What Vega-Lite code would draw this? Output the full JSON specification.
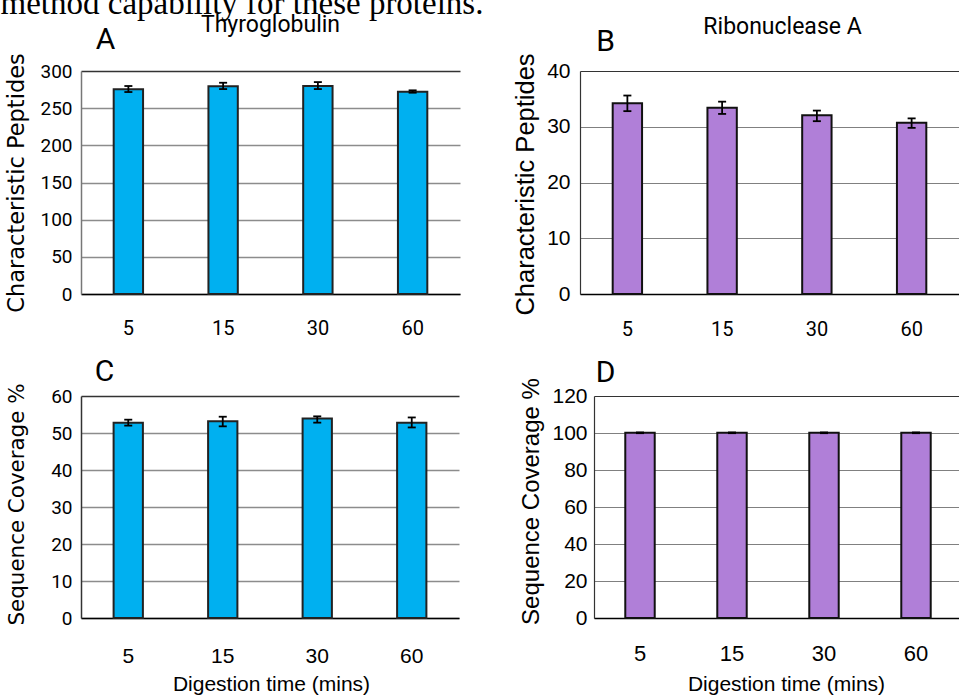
{
  "$schema": "https://vega.github.io/schema/vega-lite/v6.json",
  "autosize": "none",
  "padding": {"left": 81, "top": 71, "right": 878, "bottom": 629},
  "background": "white",
  "config": {
    "view": {"stroke": null},
    "axis": {"labelColor": "black", "titleColor": "black", "titleFontWeight": "normal", "labelFontWeight": "normal", "titleLimit": 2000, "labelLimit": 500, "labelOverlap": false}
  },
  "datasets": {
    "A": [
      {"time": 5, "mean": 275.3, "lo": 271.7, "hi": 279.8},
      {"time": 15, "mean": 279.4, "lo": 275.7, "hi": 284.2},
      {"time": 30, "mean": 279.8, "lo": 275.7, "hi": 285.1},
      {"time": 60, "mean": 272.2, "lo": 270.8, "hi": 274.0}
    ],
    "B": [
      {"time": 5, "mean": 34.2, "lo": 32.8, "hi": 35.6},
      {"time": 15, "mean": 33.4, "lo": 32.3, "hi": 34.5},
      {"time": 30, "mean": 32.05, "lo": 31.0, "hi": 32.9},
      {"time": 60, "mean": 30.7, "lo": 29.8, "hi": 31.5}
    ],
    "C": [
      {"time": 5, "mean": 52.8, "lo": 52.0, "hi": 53.6},
      {"time": 15, "mean": 53.2, "lo": 51.8, "hi": 54.4},
      {"time": 30, "mean": 53.9, "lo": 52.8, "hi": 54.5},
      {"time": 60, "mean": 52.8, "lo": 51.5, "hi": 54.2}
    ],
    "D": [
      {"time": 5, "mean": 100.1, "lo": 99.9, "hi": 100.3},
      {"time": 15, "mean": 100.1, "lo": 99.9, "hi": 100.3},
      {"time": 30, "mean": 100.1, "lo": 99.9, "hi": 100.3},
      {"time": 60, "mean": 100.1, "lo": 99.9, "hi": 100.3}
    ]
  },
  "bounds": "flush",
  "spacing": 325,
  "vconcat": [
    {
      "hconcat": [
        {
          "width": 379, "height": 223,
          "data": {"name": "A"},
          "resolve": {"axis": {"x": "independent", "y": "independent"}},
          "layer": [
            {
              "mark": {"type": "bar", "fill": "#00b0f0", "stroke": "#222222", "strokeWidth": 2},
              "encoding": {
                "x": {"field": "time", "type": "ordinal", "scale": {"type": "band", "paddingInner": 0.69, "paddingOuter": 0.345},
                  "axis": {"orient": "bottom", "labelAngle": 0, "ticks": false, "domainColor": "black", "domainWidth": 1.5, "grid": false, "labelFont": "Roboto", "labelFontSize": 20, "labelPadding": 24,
                    "title": "Thyroglobulin", "titleX": 189, "titleY": -263, "titleAlign": "center", "titleBaseline": "alphabetic", "titleFont": "Roboto", "titleFontSize": 23}},
                "y": {"field": "mean", "type": "quantitative", "scale": {"domain": [0, 300], "nice": false},
                  "axis": {"orient": "left", "values": [0, 50, 100, 150, 200, 250, 300], "ticks": false, "domainColor": "#777777", "domainWidth": 1.5, "grid": true,
                    "gridColor": {"condition": {"test": "datum.value === 300", "value": "#333333"}, "value": "#8c8c8c"}, "gridWidth": 1.5,
                    "labelFont": "Roboto", "labelFontSize": 19, "labelPadding": 9,
                    "title": "Characteristic Peptides", "titleFont": "DejaVu Sans", "titleFontSize": 22.5, "titleAngle": -90, "titleX": -58, "titleY": 111.5, "titleAlign": "center", "titleBaseline": "alphabetic"}}
              }
            },
            {
              "mark": {"type": "rule", "color": "black", "strokeWidth": 1.8},
              "encoding": {
                "x": {"field": "time", "type": "ordinal", "scale": {"type": "band", "paddingInner": 0.69, "paddingOuter": 0.345},
                  "axis": {"orient": "top", "labels": false, "ticks": false, "domain": false, "grid": false,
                    "title": "A", "titleX": 24, "titleY": -23, "titleAlign": "center", "titleBaseline": "alphabetic", "titleFont": "Roboto", "titleFontSize": 30}},
                "y": {"field": "lo", "type": "quantitative", "scale": {"domain": [0, 300], "nice": false},
                  "axis": {"orient": "right", "labels": false, "ticks": false, "domain": false, "grid": false,
                    "title": "method capability for these proteins.", "titleAngle": 0, "titleX": -460, "titleY": -58, "titleAlign": "left", "titleBaseline": "alphabetic", "titleFont": "Liberation Serif", "titleFontSize": 33}},
                "y2": {"field": "hi"}
              }
            },
            {
              "mark": {"type": "tick", "orient": "horizontal", "color": "black", "size": 8, "thickness": 1.8, "opacity": 1},
              "encoding": {
                "x": {"field": "time", "type": "ordinal", "scale": {"type": "band", "paddingInner": 0.69, "paddingOuter": 0.345}, "axis": null},
                "y": {"field": "lo", "type": "quantitative", "scale": {"domain": [0, 300], "nice": false}, "axis": null}
              }
            },
            {
              "mark": {"type": "tick", "orient": "horizontal", "color": "black", "size": 8, "thickness": 1.8, "opacity": 1},
              "encoding": {
                "x": {"field": "time", "type": "ordinal", "scale": {"type": "band", "paddingInner": 0.69, "paddingOuter": 0.345}, "axis": null},
                "y": {"field": "hi", "type": "quantitative", "scale": {"domain": [0, 300], "nice": false}, "axis": null}
              }
            }
          ]
        },
        {
          "width": 379, "height": 223,
          "data": {"name": "B"},
          "resolve": {"axis": {"x": "independent", "y": "independent"}},
          "layer": [
            {
              "mark": {"type": "bar", "fill": "#b07fd8", "stroke": "#111111", "strokeWidth": 2},
              "encoding": {
                "x": {"field": "time", "type": "ordinal", "scale": {"type": "band", "paddingInner": 0.69, "paddingOuter": 0.345},
                  "axis": {"orient": "bottom", "labelAngle": 0, "ticks": false, "domainColor": "black", "domainWidth": 1.5, "grid": false, "labelFont": "Roboto", "labelFontSize": 20, "labelPadding": 25,
                    "title": "Ribonuclease A", "titleX": 202, "titleY": -261, "titleAlign": "center", "titleBaseline": "alphabetic", "titleFont": "Roboto", "titleFontSize": 23}},
                "y": {"field": "mean", "type": "quantitative", "scale": {"domain": [0, 40], "nice": false},
                  "axis": {"orient": "left", "values": [0, 10, 20, 30, 40], "ticks": false, "domainColor": "#333333", "domainWidth": 1.2, "grid": true,
                    "gridColor": {"condition": {"test": "datum.value === 40", "value": "#333333"}, "value": "#808080"}, "gridWidth": 1.2,
                    "labelFont": "Liberation Sans", "labelFontSize": 21, "labelPadding": 10,
                    "title": "Characteristic Peptides", "titleFont": "Liberation Sans", "titleFontSize": 25.5, "titleAngle": -90, "titleX": -47, "titleY": 113, "titleAlign": "center", "titleBaseline": "alphabetic"}}
              }
            },
            {
              "mark": {"type": "rule", "color": "black", "strokeWidth": 1.8},
              "encoding": {
                "x": {"field": "time", "type": "ordinal", "scale": {"type": "band", "paddingInner": 0.69, "paddingOuter": 0.345},
                  "axis": {"orient": "top", "labels": false, "ticks": false, "domain": false, "grid": false,
                    "title": "B", "titleX": 25, "titleY": -21, "titleAlign": "center", "titleBaseline": "alphabetic", "titleFont": "Roboto", "titleFontSize": 30}},
                "y": {"field": "lo", "type": "quantitative", "scale": {"domain": [0, 40], "nice": false}, "axis": null},
                "y2": {"field": "hi"}
              }
            },
            {
              "mark": {"type": "tick", "orient": "horizontal", "color": "black", "size": 8, "thickness": 1.8, "opacity": 1},
              "encoding": {
                "x": {"field": "time", "type": "ordinal", "scale": {"type": "band", "paddingInner": 0.69, "paddingOuter": 0.345}, "axis": null},
                "y": {"field": "lo", "type": "quantitative", "scale": {"domain": [0, 40], "nice": false}, "axis": null}
              }
            },
            {
              "mark": {"type": "tick", "orient": "horizontal", "color": "black", "size": 8, "thickness": 1.8, "opacity": 1},
              "encoding": {
                "x": {"field": "time", "type": "ordinal", "scale": {"type": "band", "paddingInner": 0.69, "paddingOuter": 0.345}, "axis": null},
                "y": {"field": "hi", "type": "quantitative", "scale": {"domain": [0, 40], "nice": false}, "axis": null}
              }
            }
          ]
        }
      ],
      "spacing": 120,
      "bounds": "flush"
    },
    {
      "hconcat": [
        {
          "width": 378, "height": 222,
          "data": {"name": "C"},
          "resolve": {"axis": {"x": "independent", "y": "independent"}},
          "layer": [
            {
              "mark": {"type": "bar", "fill": "#00b0f0", "stroke": "#222222", "strokeWidth": 2},
              "encoding": {
                "x": {"field": "time", "type": "ordinal", "scale": {"type": "band", "paddingInner": 0.69, "paddingOuter": 0.345},
                  "axis": {"orient": "bottom", "labelAngle": 0, "ticks": false, "domainColor": "black", "domainWidth": 1.5, "grid": false, "labelFont": "Liberation Sans Narrow, Liberation Sans", "labelFontSize": 21, "labelPadding": 27,
                    "title": "Digestion time (mins)", "titleX": 190, "titleY": 72, "titleAlign": "center", "titleBaseline": "alphabetic", "titleFont": "Liberation Sans", "titleFontSize": 21}},
                "y": {"field": "mean", "type": "quantitative", "scale": {"domain": [0, 60], "nice": false},
                  "axis": {"orient": "left", "values": [0, 10, 20, 30, 40, 50, 60], "ticks": false, "domainColor": "#333333", "domainWidth": 1.5, "grid": true,
                    "gridColor": {"condition": {"test": "datum.value === 60", "value": "#333333"}, "value": "#8c8c8c"}, "gridWidth": 1.5,
                    "labelFont": "Roboto", "labelFontSize": 19, "labelPadding": 9,
                    "title": "Sequence Coverage %", "titleFont": "DejaVu Sans", "titleFontSize": 21.4, "titleAngle": -90, "titleX": -58, "titleY": 108, "titleAlign": "center", "titleBaseline": "alphabetic"}}
              }
            },
            {
              "mark": {"type": "rule", "color": "black", "strokeWidth": 1.8},
              "encoding": {
                "x": {"field": "time", "type": "ordinal", "scale": {"type": "band", "paddingInner": 0.69, "paddingOuter": 0.345},
                  "axis": {"orient": "top", "labels": false, "ticks": false, "domain": false, "grid": false,
                    "title": "C", "titleX": 23, "titleY": -16, "titleAlign": "center", "titleBaseline": "alphabetic", "titleFont": "Roboto", "titleFontSize": 30}},
                "y": {"field": "lo", "type": "quantitative", "scale": {"domain": [0, 60], "nice": false}, "axis": null},
                "y2": {"field": "hi"}
              }
            },
            {
              "mark": {"type": "tick", "orient": "horizontal", "color": "black", "size": 8, "thickness": 1.8, "opacity": 1},
              "encoding": {
                "x": {"field": "time", "type": "ordinal", "scale": {"type": "band", "paddingInner": 0.69, "paddingOuter": 0.345}, "axis": null},
                "y": {"field": "lo", "type": "quantitative", "scale": {"domain": [0, 60], "nice": false}, "axis": null}
              }
            },
            {
              "mark": {"type": "tick", "orient": "horizontal", "color": "black", "size": 8, "thickness": 1.8, "opacity": 1},
              "encoding": {
                "x": {"field": "time", "type": "ordinal", "scale": {"type": "band", "paddingInner": 0.69, "paddingOuter": 0.345}, "axis": null},
                "y": {"field": "hi", "type": "quantitative", "scale": {"domain": [0, 60], "nice": false}, "axis": null}
              }
            }
          ]
        },
        {
          "width": 368, "height": 222,
          "data": {"name": "D"},
          "resolve": {"axis": {"x": "independent", "y": "independent"}},
          "layer": [
            {
              "mark": {"type": "bar", "fill": "#b07fd8", "stroke": "#111111", "strokeWidth": 2},
              "encoding": {
                "x": {"field": "time", "type": "ordinal", "scale": {"type": "band", "paddingInner": 0.68, "paddingOuter": 0.34},
                  "axis": {"orient": "bottom", "labelAngle": 0, "ticks": false, "domainColor": "black", "domainWidth": 1.5, "grid": false, "labelFont": "Liberation Sans", "labelFontSize": 22, "labelPadding": 25,
                    "title": "Digestion time (mins)", "titleX": 192, "titleY": 72, "titleAlign": "center", "titleBaseline": "alphabetic", "titleFont": "Liberation Sans", "titleFontSize": 21}},
                "y": {"field": "mean", "type": "quantitative", "scale": {"domain": [0, 120], "nice": false},
                  "axis": {"orient": "left", "values": [0, 20, 40, 60, 80, 100, 120], "ticks": false, "domainColor": "#333333", "domainWidth": 1.2, "grid": true,
                    "gridColor": {"condition": {"test": "datum.value === 120", "value": "#333333"}, "value": "#808080"}, "gridWidth": 1.2,
                    "labelFont": "Liberation Sans", "labelFontSize": 21, "labelPadding": 7,
                    "title": "Sequence Coverage %", "titleFont": "Liberation Sans", "titleFontSize": 24, "titleAngle": -90, "titleX": -56, "titleY": 105, "titleAlign": "center", "titleBaseline": "alphabetic"}}
              }
            },
            {
              "mark": {"type": "rule", "color": "black", "strokeWidth": 1.8},
              "encoding": {
                "x": {"field": "time", "type": "ordinal", "scale": {"type": "band", "paddingInner": 0.68, "paddingOuter": 0.34},
                  "axis": {"orient": "top", "labels": false, "ticks": false, "domain": false, "grid": false,
                    "title": "D", "titleX": 11, "titleY": -15, "titleAlign": "center", "titleBaseline": "alphabetic", "titleFont": "Roboto", "titleFontSize": 30}},
                "y": {"field": "lo", "type": "quantitative", "scale": {"domain": [0, 120], "nice": false}, "axis": null},
                "y2": {"field": "hi"}
              }
            },
            {
              "mark": {"type": "tick", "orient": "horizontal", "color": "black", "size": 8, "thickness": 1.8, "opacity": 1},
              "encoding": {
                "x": {"field": "time", "type": "ordinal", "scale": {"type": "band", "paddingInner": 0.68, "paddingOuter": 0.34}, "axis": null},
                "y": {"field": "lo", "type": "quantitative", "scale": {"domain": [0, 120], "nice": false}, "axis": null}
              }
            },
            {
              "mark": {"type": "tick", "orient": "horizontal", "color": "black", "size": 8, "thickness": 1.8, "opacity": 1},
              "encoding": {
                "x": {"field": "time", "type": "ordinal", "scale": {"type": "band", "paddingInner": 0.68, "paddingOuter": 0.34}, "axis": null},
                "y": {"field": "hi", "type": "quantitative", "scale": {"domain": [0, 120], "nice": false}, "axis": null}
              }
            }
          ]
        }
      ],
      "spacing": 135,
      "bounds": "flush"
    }
  ]
}
